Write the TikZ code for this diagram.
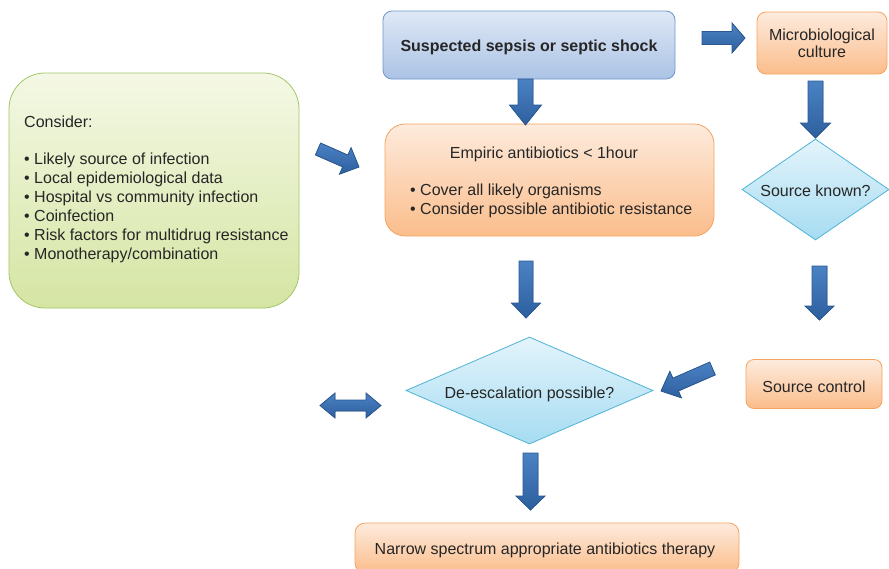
\documentclass[tikz,border=0pt]{standalone}
\usepackage{fontspec}
\setmainfont{Liberation Sans}
\usetikzlibrary{shapes.geometric}
\definecolor{txt}{HTML}{262626}
\definecolor{bluetop}{HTML}{DFE8F6}
\definecolor{bluebot}{HTML}{ABC3E5}
\definecolor{blueedge}{HTML}{6F96CC}
\definecolor{ortop}{HTML}{FDEBDD}
\definecolor{orbot}{HTML}{FBBD8B}
\definecolor{oredge}{HTML}{F5A460}
\definecolor{grtop}{HTML}{F4F8E5}
\definecolor{grbot}{HTML}{D5E5A3}
\definecolor{gredge}{HTML}{A2C767}
\definecolor{dmtop}{HTML}{E3F4FB}
\definecolor{dmbot}{HTML}{A6DCF2}
\definecolor{dmedge}{HTML}{4FB3D6}
\definecolor{artop}{HTML}{4B82C4}
\definecolor{arbot}{HTML}{2D5F9E}
\definecolor{aredge}{HTML}{2B5890}
\newcommand\lowr[2]{\raisebox{-#1}[\height][\depth]{#2}}
\makeatletter
\newcommand\blockarrow[5]{%
  \pgfmathanglebetweenpoints{\pgfpointanchor{#1}{center}}{\pgfpointanchor{#2}{center}}%
  \let\baangle\pgfmathresult
  \pgfpointdiff{\pgfpointanchor{#1}{center}}{\pgfpointanchor{#2}{center}}%
  \pgfgetlastxy{\badx}{\bady}%
  \pgfmathveclen{\badx}{\bady}\let\balen\pgfmathresult
  \begin{scope}[shift={(#1)}, rotate=\baangle]
    \filldraw[barrow] (0,{-#3/2}) -- ({\balen-#5},{-#3/2}) -- ({\balen-#5},{-#4/2})
      -- (\balen,0) -- ({\balen-#5},{#4/2}) -- ({\balen-#5},{#3/2}) -- (0,{#3/2}) -- cycle;
  \end{scope}}
\makeatother
\begin{document}
\begin{tikzpicture}[x=1pt,y=-1pt,
  every node/.style={text=txt, font=\fontsize{16}{19}\selectfont, inner sep=0pt},
  bluebox/.style={draw=blueedge, line width=0.8pt, top color=bluetop, bottom color=bluebot, rounded corners=9pt},
  orangebox/.style={draw=oredge, line width=0.8pt, top color=ortop, bottom color=orbot},
  greenbox/.style={draw=gredge, line width=0.8pt, top color=grtop, bottom color=grbot},
  decision/.style={diamond, draw=dmedge, line width=0.8pt, top color=dmtop, bottom color=dmbot},
  barrow/.style={draw=aredge, line width=0.8pt, top color=artop, bottom color=arbot, line join=miter}]
\useasboundingbox (0,0) rectangle (889,568);
\clip (0,0) rectangle (889,568);

% boxes
\node[bluebox, minimum width=292pt, minimum height=68pt] (sepsis) at (529,45)
  {\lowr{2pt}{\bfseries Suspected sepsis or septic shock}};
\node[orangebox, rounded corners=9pt, minimum width=130pt, minimum height=62pt, align=center,
  font=\fontsize{16}{16.7}\selectfont] (culture) at (822,43) {Microbiological\\culture};
\node[orangebox, rounded corners=20pt, minimum width=329pt, minimum height=112pt] (empiric) at (549.5,180) {};
\node (emptitle) at (544,154) {Empiric antibiotics < 1hour};
\node[anchor=north west, align=left] (empbul) at (410,183.3)
  {• Cover all likely organisms\\• Consider possible antibiotic resistance};
\node[greenbox, rounded corners=36pt, minimum width=290pt, minimum height=235pt] (consider) at (154,190.5) {};
\node[anchor=north west, align=left] (constxt) at (24,115.8)
  {Consider:\\[17.6pt]• Likely source of infection\\• Local epidemiological data\\• Hospital vs community infection\\• Coinfection\\• Risk factors for multidrug resistance\\• Monotherapy/combination};
\node[decision, aspect=1.46, minimum width=147pt, minimum height=101pt] (sknown) at (815.5,189.5)
  {\lowr{1.5pt}{Source known?}};
\node[orangebox, rounded corners=8pt, minimum width=136pt, minimum height=49pt] (scontrol) at (814,384)
  {\lowr{2.5pt}{Source control}};
\node[decision, aspect=2.3, minimum width=247pt, minimum height=107pt] (deesc) at (529.5,390.5)
  {\lowr{4pt}{De-escalation possible?}};
\node[orangebox, rounded corners=10pt, minimum width=384pt, minimum height=50pt] (narrowbox) at (547,548) {};
\node (narrowtxt) at (545,550) {Narrow spectrum appropriate antibiotics therapy};

% arrow end points
\coordinate (a1s) at (525.5,79);   \coordinate (a1e) at (525.5,125);
\coordinate (a2s) at (702,38);     \coordinate (a2e) at (745,38);
\coordinate (a3s) at (815.5,81);   \coordinate (a3e) at (815.5,138);
\coordinate (a4s) at (318,149);    \coordinate (a4e) at (359,167);
\coordinate (a5s) at (526,261);    \coordinate (a5e) at (526,318);
\coordinate (a6s) at (819.5,266);  \coordinate (a6e) at (819.5,320);
\coordinate (a7s) at (712.5,368.5);\coordinate (a7e) at (661,391);
\coordinate (a8s) at (530.5,453);  \coordinate (a8e) at (530.5,510);

\blockarrow{a1s}{a1e}{15}{32}{20}
\blockarrow{a2s}{a2e}{13}{30}{13}
\blockarrow{a3s}{a3e}{15}{30}{15}
\blockarrow{a4s}{a4e}{13}{29}{15}
\blockarrow{a5s}{a5e}{14}{29}{15}
\blockarrow{a6s}{a6e}{15}{29}{14}
\blockarrow{a7s}{a7e}{14}{29}{16}
\blockarrow{a8s}{a8e}{15}{29}{14}

% double arrow
\filldraw[barrow] (320,405.5) -- (335,393) -- (335,400) -- (366,400) -- (366,393) -- (381,405.5)
  -- (366,418) -- (366,411) -- (335,411) -- (335,418) -- cycle;
\end{tikzpicture}
\end{document}
